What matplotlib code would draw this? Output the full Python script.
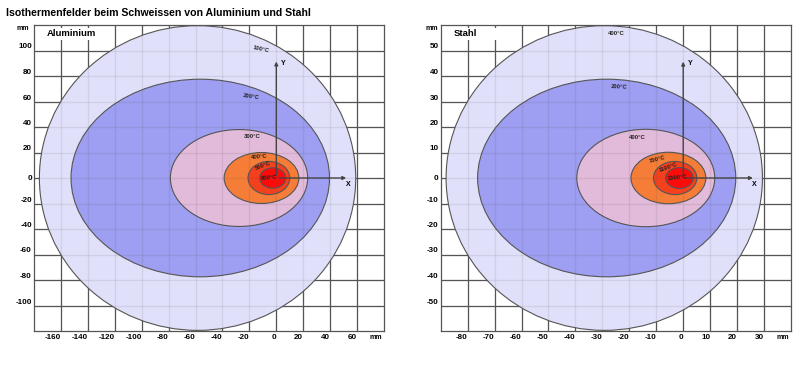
import matplotlib
matplotlib.use("Agg")
import matplotlib.pyplot as plt
from matplotlib.patches import Ellipse, Rectangle
import numpy as np

plt.rcParams['font.family'] = ['Liberation Sans', 'DejaVu Sans']

title = "Isothermenfelder beim Schweissen von Aluminium und Stahl"

# ---- Aluminium ----
al_name = "Aluminium"
al_temps = ["100°C", "200°C", "300°C", "400°C", "500°C", "600°C"]
al_cx = [-58.5, -56.5, -27.7, -11.0, -5.5, -2.7]
al_w = [235, 192, 102, 55.5, 31, 19.3]
al_h = [239, 155, 76, 40, 26, 16]
al_lab_x = [-11, -18.5, -18, -13, -10, -5.5]
al_lab_y = [101, 63.5, 32.8, 16.5, 9.8, 0]
al_lab_rot = [-12, -8, 0, 5, 20, 5]
al_xticks = [-160, -140, -120, -100, -80, -60, -40, -20, 0, 20, 40, 60]
al_yticks = [-100, -80, -60, -40, -20, 0, 20, 40, 60, 80, 100]
al_xlim = (-180, 80)
al_ylim = (-120, 120)
al_arrow = (54, 93.5)

# ---- Stahl ----
st_name = "Stahl"
st_temps = ["400°C", "200°C", "400°C", "700°C", "1100°C", "1500°C"]
st_cx = [-29.3, -28.4, -13.9, -5.5, -3.0, -1.4]
st_w = [117.4, 95.8, 51.2, 27.8, 16.1, 10.2]
st_h = [119.5, 77.5, 38.2, 20.2, 13, 8.2]
st_lab_x = [-24.7, -23.7, -16.9, -9.6, -5.5, -2]
st_lab_y = [56.5, 35.9, 16, 7.2, 4.3, 0]
st_lab_rot = [0, -3, 0, 15, 20, 5]
st_xticks = [-80, -70, -60, -50, -40, -30, -20, -10, 0, 10, 20, 30]
st_yticks = [-50, -40, -30, -20, -10, 0, 10, 20, 30, 40, 50]
st_xlim = (-90, 40)
st_ylim = (-60, 60)
st_arrow = (26.9, 46.7)

fills = ['#E0E0FA', '#9E9EF2', '#E2BADA', '#F57D37', '#F5401E', '#FF0A0A']

W, H = 800, 390
fig = plt.figure(figsize=(8, 3.9), dpi=100)
fig.text(6 / W, 1 - 13 / H, title, fontsize=7.6, fontweight='bold', va='center', ha='left')

def panel(rect, name, temps, cx, w, h, lx, ly, lrot, xt, yt, xlim, ylim, arrow):
    ax = fig.add_axes(rect)
    ax.set_xlim(*xlim)
    ax.set_ylim(*ylim)
    # grid below
    for x in xt:
        ax.axvline(x, color='#555555', lw=0.9, zorder=0)
    for y in yt:
        ax.axhline(y, color='#555555', lw=0.9, zorder=0)
    for i in range(len(temps)):
        e = Ellipse((cx[i], 0), w[i], h[i], facecolor=fills[i], edgecolor='#555555', lw=0.8, zorder=1 + i)
        ax.add_patch(e)
    # faint grid on top
    for x in xt:
        ax.axvline(x, color='#555555', lw=0.9, alpha=0.12, zorder=10)
    for y in yt:
        ax.axhline(y, color='#555555', lw=0.9, alpha=0.12, zorder=10)
    for i in range(len(temps)):
        ax.text(lx[i], ly[i], temps[i], fontsize=4.2, fontweight='bold', rotation=lrot[i],
                ha='center', va='center', zorder=20, color='#222222')
    ax.annotate('', xy=(0, arrow[1]), xytext=(0, 0),
                arrowprops=dict(arrowstyle='-|>', color='#444444', lw=1.0, mutation_scale=5), zorder=15)
    ax.annotate('', xy=(arrow[0], 0), xytext=(0, 0),
                arrowprops=dict(arrowstyle='-|>', color='#444444', lw=1.0, mutation_scale=5), zorder=15)
    ax.annotate('Y', xy=(0, arrow[1]), xytext=(7, -5), textcoords='offset pixels',
                fontsize=5, fontweight='bold', ha='center', va='center', zorder=20)
    ax.annotate('X', xy=(arrow[0], 0), xytext=(-1, -6), textcoords='offset pixels',
                fontsize=5, fontweight='bold', ha='center', va='center', zorder=20)
    # white label box
    ax.add_patch(Rectangle((6 / 350, 1 - 15 / 306), 66 / 350, 12 / 306, transform=ax.transAxes,
                           facecolor='white', edgecolor='none', zorder=25))
    ax.text(13 / 350, 1 - 9 / 306, name, transform=ax.transAxes, fontsize=6.8, fontweight='bold',
            ha='left', va='center', zorder=26)
    ax.set_xticks(xt)
    ax.set_yticks(yt)
    ax.set_xticklabels([str(v) for v in xt], fontsize=5.8, fontweight='bold')
    ax.set_yticklabels([str(v) for v in yt], fontsize=5.8, fontweight='bold')
    for lab in ax.get_xticklabels():
        lab.set_ha('right')
    for v, lab in zip(yt, ax.get_yticklabels()):
        lab.set_va('center' if v == 0 else 'bottom')
    ax.tick_params(length=0, pad=2)
    ax.tick_params(axis='y', pad=1.5)
    for s in ax.spines.values():
        s.set_color('#555555')
        s.set_linewidth(0.9)
    return ax

panel([34 / W, 59 / H, 350 / W, 306 / H], al_name, al_temps, al_cx, al_w, al_h,
      al_lab_x, al_lab_y, al_lab_rot, al_xticks, al_yticks, al_xlim, al_ylim, al_arrow)
panel([440.7 / W, 59 / H, 350.3 / W, 306 / H], st_name, st_temps, st_cx, st_w, st_h,
      st_lab_x, st_lab_y, st_lab_rot, st_xticks, st_yticks, st_xlim, st_ylim, st_arrow)

for (x, y) in [(22.7, 28), (375.7, 337.5), (431.7, 28), (783, 337.5)]:
    fig.text(x / W, 1 - y / H, 'mm', fontsize=5, fontweight='bold', ha='center', va='center')

fig.savefig('out.png', dpi=100)
